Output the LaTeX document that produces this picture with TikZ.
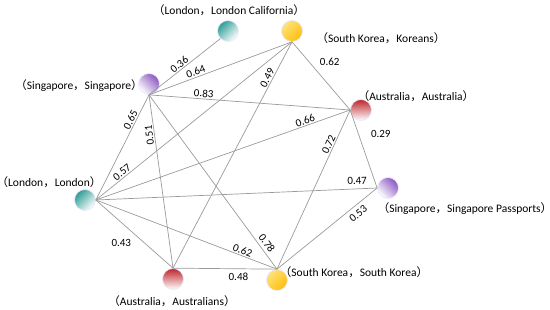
\documentclass[tikz,border=0pt]{standalone}
\usepackage{fontspec}
\setmainfont{Carlito}
\newfontfamily\cjk{Noto Sans CJK SC}
\usepackage{tikz}
\usetikzlibrary{positioning}

\definecolor{tealball}{HTML}{2E9C96}
\definecolor{purpleball}{HTML}{8A55C2}
\definecolor{goldball}{HTML}{FFBE0A}
\definecolor{goldlight}{HTML}{FFE27A}
\definecolor{redball}{HTML}{BE252B}
\definecolor{linkgray}{HTML}{9A9A9A}

\newcommand{\pairtag}[2]{{\cjk （}#1{\cjk ，}#2{\cjk ）}}

\begin{document}
\begin{tikzpicture}[
  x=1pt, y=-1pt,
  font=\fontsize{11}{13}\selectfont,
  ball/.style={
    circle, minimum size=21pt, inner sep=0pt,
    draw=blue!9, line width=0.7pt
  },
  tag/.style={inner sep=0pt, font=\fontsize{11.5}{13}\selectfont},
  link/.style={draw=linkgray, line width=0.7pt},
  weight/.style={font=\fontsize{11}{13}\selectfont, inner sep=1.2pt}
]
\useasboundingbox (0,0) rectangle (550,310);

% ----- Balls -----
\node[ball, top color=tealball, bottom color=white, shading angle=45] (lc) at (228,31) {};
\node[ball, top color=goldlight, bottom color=goldball, shading angle=45] (skk) at (292,31) {};
\node[ball, top color=purpleball, bottom color=white, shading angle=-45] (ss) at (149,84) {};
\node[ball, top color=redball, bottom color=white] (aa) at (361,110) {};
\node[ball, top color=tealball, bottom color=white, shading angle=45] (ll) at (85,200) {};
\node[ball, top color=purpleball, bottom color=white, shading angle=-45] (ssp) at (388,188) {};
\node[ball, top color=redball, bottom color=white] (aau) at (173,279) {};
\node[ball, top color=goldlight, bottom color=goldball, shading angle=45] (sksk) at (277,280) {};

% ----- Tags -----
\node[tag] (lc-tag) at (229,10) {\pairtag{London}{London California}};
\node[tag] (skk-tag) at (381,38) {\pairtag{South Korea}{Koreans}};
\node[tag] (ss-tag) at (79,86) {\pairtag{Singapore}{Singapore}};
\node[tag] (aa-tag) at (416,96) {\pairtag{Australia}{Australia}};
\node[tag] (ll-tag) at (49,182) {\pairtag{London}{London}};
\node[tag] (ssp-tag) at (465,209) {\pairtag{Singapore}{Singapore Passports}};
\node[tag] (aau-tag) at (172,301) {\pairtag{Australia}{Australians}};
\node[tag] (sksk-tag) at (354,272) {\pairtag{South Korea}{South Korea}};

% ----- Links -----
\draw[link] (ss.south) -- node[weight, pos=0.47, sloped, above] {0.36} (lc.south west);
\draw[link] (ss.south) -- node[weight, pos=0.34, sloped, above] {0.64} (skk.south);
\draw[link] (ss.south) -- node[weight, pos=0.27, sloped, above] {0.83} (aa.west);
\draw[link] (aau.north) -- node[weight, pos=0.83, sloped, above] {0.49} (skk.south);
\draw[link] (skk.south) -- node[weight, pos=0.3, right=9pt] {0.62} (aa.west);
\draw[link] (ll.east) -- node[weight, pos=0.74, sloped, above] {0.65} (ss.south);
\draw[link] (aau.north) -- node[weight, pos=0.77, rotate=97, anchor=south] {0.51} (ss.south);
\draw[link] (ll.east) -- node[weight, pos=0.15, sloped, above] {0.57} (skk.south);
\draw[link] (ll.east) -- node[weight, pos=0.83, sloped, above] {0.66} (aa.west);
\draw[link] (sksk.north) -- node[weight, pos=0.77, sloped, above] {0.72} (aa.west);
\draw[link] (aa.west) -- node[weight, pos=0.31, right=11pt] {0.29} (ssp.west);
\draw[link] (ll.east) -- node[weight, pos=0.93, sloped, above=3pt] {0.47} (ssp.west);
\draw[link] (sksk.north) -- node[weight, pos=0.76, sloped, below=3pt] {0.53} (ssp.west);
\draw[link] (ll.east) -- node[weight, pos=0.33, below=15pt] {0.43} (aau.north);
\draw[link] (ll.east) -- node[weight, pos=0.80, sloped, above] {0.62} (sksk.north);
\draw[link] (ss.south) -- node[weight, pos=0.875, sloped, above=2pt] {0.78} (sksk.north);
\draw[link] (aau.north) -- node[weight, pos=0.63, sloped, below=3pt] {0.48} (sksk.north);

\end{tikzpicture}
\end{document}
